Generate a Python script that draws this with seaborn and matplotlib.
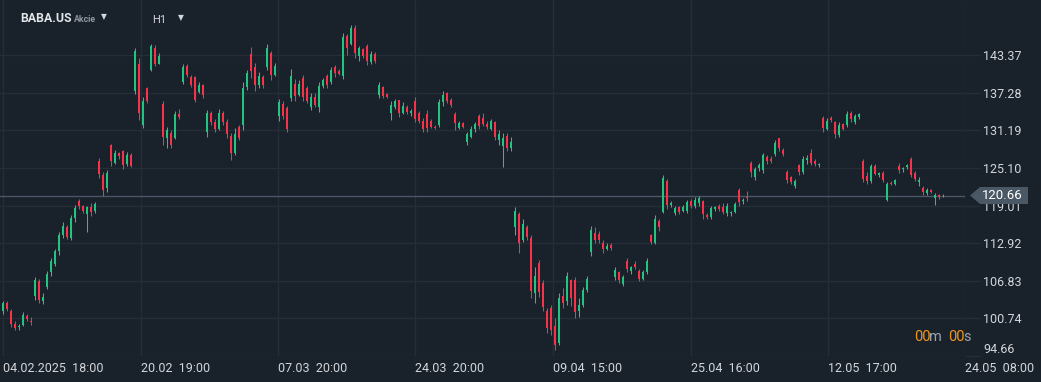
import numpy as np
import matplotlib
matplotlib.use('Agg')
import matplotlib.pyplot as plt
from matplotlib.patches import Polygon
from matplotlib.transforms import IdentityTransform
import seaborn as sns

# hourly candles (~one candle per 4 px)
opens = [101.9, 103.3, 102.0, 99.9, 99.3, 99.7, 101.2, 100.4, 104.3, 106.8, 103.5, 105.9, 108.2, 109.6, 111.6, 114.3,
         115.5, 113.8, 117.0, 119.8, 118.9, 117.6, 118.8, 118.2, 126.3, 124.0, 121.8, 128.8, 126.0, 127.5, 127.8, 125.7,
         127.3, 137.6, 142.0, 132.0, 138.0, 141.0, 144.6, 142.0, 135.5, 130.0, 130.8, 130.0, 133.8, 139.0, 141.7, 139.9,
         139.8, 137.5, 138.6, 131.0, 134.0, 132.6, 131.5, 134.0, 132.6, 130.3, 127.5, 131.8, 132.0, 138.2, 143.6, 141.5,
         138.5, 139.8, 141.4, 143.8, 140.2, 133.5, 135.5, 134.8, 136.5, 138.8, 137.0, 139.7, 138.0, 135.0, 136.6, 135.0,
         138.4, 140.0, 139.0, 141.5, 140.8, 140.0, 146.5, 145.2, 147.8, 143.2, 144.4, 144.9, 142.3, 143.6, 137.0, 138.2,
         137.1, 134.0, 135.0, 136.1, 134.0, 135.0, 134.0, 136.0, 134.0, 132.8, 133.8, 132.8, 131.8, 132.0, 135.8, 137.2,
         136.2, 133.9, 131.6, 132.4, 129.3, 130.2, 131.4, 133.5, 133.2, 132.3, 131.5, 132.5, 129.6, 128.6, 130.3, 128.4,
         115.5, 117.6, 113.5, 115.6, 113.8, 104.8, 109.8, 106.5, 102.0, 102.5, 99.5, 96.8, 104.4, 103.5, 107.0, 107.0,
         102.0, 103.0, 105.3, 111.5, 114.6, 114.4, 113.0, 112.0, 112.6, 107.4, 108.2, 106.4, 110.0, 108.4, 109.6, 108.5,
         107.2, 108.2, 114.3, 113.0, 116.5, 118.0, 123.0, 119.2, 117.9, 118.8, 118.2, 118.2, 119.8, 118.9, 119.5, 119.8,
         117.5, 117.2, 118.5, 118.9, 118.8, 117.8, 117.8, 118.0, 121.5, 119.7, 120.4, 126.0, 123.6, 125.1, 124.8, 126.9,
         126.6, 127.4, 129.9, 128.0, 124.4, 123.6, 122.2, 125.6, 124.5, 126.4, 127.6, 126.3, 125.6, 133.2, 131.5, 133.2,
         132.6, 130.4, 132.2, 132.0, 134.0, 132.6, 133.4, 126.2, 123.8, 123.0, 125.5, 124.0, 124.3, 120.0, 122.7, 122.5,
         125.4, 124.9, 125.2, 126.6, 124.3, 122.8, 121.8, 121.0, 121.5, 120.3, 120.7, 120.5]
highs = [103.5, 103.5, 102.2, 100.3, 99.9, 101.8, 101.4, 101.0, 107.4, 107.2, 104.8, 108.4, 110.5, 112.0, 114.8, 116.3,
         115.9, 117.5, 119.2, 120.1, 119.2, 119.0, 119.4, 119.6, 126.8, 124.5, 124.8, 129.0, 128.0, 127.7, 128.1, 127.7,
         127.6, 144.5, 143.0, 136.6, 138.2, 145.2, 145.0, 143.7, 135.9, 131.8, 131.3, 134.4, 134.6, 141.9, 141.9, 140.2,
         140.0, 139.0, 138.8, 134.5, 134.3, 133.0, 134.6, 134.4, 133.0, 130.8, 131.6, 132.1, 139.0, 141.0, 144.7, 142.2,
         140.6, 140.2, 145.2, 144.0, 142.2, 136.3, 136.0, 135.2, 141.2, 139.6, 139.3, 140.1, 138.4, 137.3, 137.2, 139.0,
         139.7, 140.3, 141.5, 141.8, 141.2, 147.0, 146.8, 148.3, 148.2, 144.8, 144.6, 145.2, 144.1, 143.9, 139.0, 138.4,
         137.3, 136.0, 136.3, 136.2, 135.8, 135.3, 134.6, 136.6, 134.4, 133.2, 134.5, 133.0, 132.1, 136.3, 137.6, 137.5,
         136.5, 134.2, 132.8, 132.5, 130.9, 131.9, 132.5, 133.8, 134.1, 132.7, 133.1, 132.7, 131.3, 130.8, 130.8, 130.2,
         118.8, 118.0, 116.8, 115.9, 114.2, 109.0, 110.2, 107.0, 102.4, 103.0, 100.8, 104.8, 105.6, 108.3, 107.2, 107.5,
         104.0, 105.8, 107.6, 115.8, 115.6, 114.9, 113.4, 112.9, 113.0, 109.0, 108.4, 107.8, 110.6, 109.3, 110.0, 108.8,
         108.6, 110.5, 114.5, 117.5, 116.9, 124.0, 123.3, 119.8, 119.0, 119.0, 119.1, 120.0, 120.1, 120.4, 120.6, 120.0,
         117.8, 118.9, 119.0, 119.3, 119.4, 119.4, 118.2, 119.6, 121.8, 120.2, 121.4, 126.2, 125.3, 125.9, 127.6, 127.2,
         127.0, 129.6, 130.0, 128.4, 124.8, 123.8, 123.3, 125.8, 127.0, 127.2, 128.2, 126.6, 126.0, 133.6, 133.2, 133.6,
         132.8, 132.6, 132.4, 134.4, 134.4, 133.8, 134.0, 126.6, 124.5, 125.8, 125.7, 124.5, 124.6, 122.9, 123.0, 123.4,
         126.0, 125.3, 125.8, 126.9, 124.6, 123.6, 122.2, 121.8, 121.7, 121.0, 120.9, 120.9]
lows = [101.5, 102.0, 99.4, 98.8, 98.8, 99.5, 100.3, 99.7, 103.8, 103.2, 103.1, 105.5, 107.6, 109.2, 111.0, 113.8,
        113.6, 113.4, 116.3, 118.4, 117.9, 114.7, 117.4, 117.9, 123.5, 120.6, 121.3, 125.4, 125.8, 126.6, 125.0, 125.5,
        125.2, 137.1, 132.9, 131.6, 135.7, 140.8, 141.6, 141.9, 128.9, 128.4, 128.4, 129.8, 133.0, 138.8, 139.9, 138.2,
        135.8, 137.3, 136.5, 130.1, 132.0, 130.9, 131.3, 132.1, 130.0, 126.4, 127.2, 129.6, 131.2, 137.8, 139.7, 137.6,
        138.1, 138.0, 141.0, 139.4, 140.0, 132.8, 133.0, 131.0, 136.0, 136.0, 136.8, 136.0, 135.6, 134.5, 135.0, 134.2,
        138.0, 138.0, 138.8, 139.8, 140.1, 139.6, 143.4, 145.0, 143.0, 142.5, 142.9, 141.8, 142.0, 142.2, 136.4, 136.4,
        136.4, 132.9, 134.6, 133.4, 133.8, 133.9, 133.5, 132.5, 132.4, 130.9, 130.9, 131.6, 131.5, 131.8, 135.1, 135.6,
        135.0, 131.2, 131.4, 131.6, 128.9, 129.9, 131.0, 131.4, 131.9, 131.5, 131.3, 129.6, 128.9, 125.3, 127.8, 127.9,
        114.2, 111.4, 113.2, 113.5, 104.0, 103.2, 104.2, 102.0, 98.4, 98.0, 95.6, 96.5, 102.4, 103.0, 102.8, 100.8,
        101.0, 102.6, 105.0, 110.8, 112.9, 112.9, 111.3, 111.8, 111.8, 107.0, 106.5, 106.0, 108.2, 108.0, 108.8, 106.8,
        107.0, 107.9, 112.8, 112.8, 114.9, 117.8, 118.5, 118.8, 117.5, 117.7, 118.0, 117.9, 118.6, 118.6, 119.0, 116.9,
        116.9, 116.8, 118.1, 118.2, 117.6, 117.4, 117.4, 117.8, 119.0, 119.3, 119.8, 123.7, 123.2, 124.7, 124.3, 125.8,
        125.9, 127.1, 127.8, 127.1, 122.7, 122.6, 121.8, 124.0, 124.2, 125.8, 125.6, 125.5, 125.3, 131.0, 131.2, 132.6,
        129.9, 130.2, 131.2, 131.8, 132.6, 132.3, 133.1, 122.8, 122.6, 122.7, 123.9, 123.7, 122.9, 119.7, 122.3, 122.3,
        124.3, 124.5, 124.9, 123.6, 123.0, 122.2, 120.8, 120.8, 121.0, 119.2, 120.1, 120.4]
closes = [103.3, 102.3, 99.9, 99.2, 99.6, 101.3, 100.6, 100.1, 106.9, 103.8, 104.2, 108.0, 110.0, 111.6, 114.3, 115.8,
          114.0, 117.0, 118.7, 118.9, 118.1, 118.8, 118.0, 119.3, 124.2, 121.5, 124.3, 126.3, 127.6, 127.0, 125.6, 127.3,
          125.5, 144.0, 134.0, 136.0, 136.0, 144.8, 142.0, 143.3, 130.2, 131.2, 128.8, 133.8, 133.4, 141.5, 140.2, 138.6,
          136.2, 138.6, 136.9, 134.0, 132.5, 131.5, 134.0, 132.5, 130.6, 127.6, 130.6, 130.0, 138.0, 140.5, 140.8, 138.5,
          140.0, 138.6, 144.6, 140.2, 141.7, 135.8, 133.5, 131.4, 140.0, 136.8, 138.8, 136.6, 136.0, 136.6, 135.4, 138.4,
          139.3, 138.5, 141.0, 140.5, 140.4, 146.3, 144.6, 147.8, 143.8, 144.6, 143.2, 142.4, 143.6, 142.5, 138.6, 136.8,
          136.6, 135.3, 136.0, 134.0, 135.2, 134.2, 134.3, 133.0, 132.8, 131.5, 131.6, 131.8, 131.6, 135.8, 137.0, 136.0,
          135.3, 132.4, 132.4, 131.8, 130.6, 131.5, 132.2, 131.9, 132.3, 131.8, 132.8, 130.2, 130.6, 130.0, 128.4, 129.4,
          118.2, 113.0, 116.0, 114.0, 105.2, 107.6, 105.0, 102.6, 99.2, 98.8, 96.4, 104.0, 103.2, 107.6, 104.0, 101.8,
          103.0, 105.3, 107.1, 115.0, 113.5, 113.4, 112.0, 112.5, 112.1, 108.6, 107.0, 107.4, 108.7, 109.0, 109.0, 107.2,
          108.2, 110.0, 113.1, 116.8, 115.5, 123.5, 119.2, 119.4, 118.6, 118.0, 118.8, 119.6, 118.9, 120.0, 120.3, 117.6,
          117.2, 118.6, 118.8, 118.4, 118.0, 118.9, 118.0, 119.3, 119.6, 120.0, 120.2, 124.4, 125.0, 125.6, 127.2, 126.3,
          126.2, 129.2, 128.3, 127.4, 123.2, 122.9, 123.0, 124.4, 126.6, 126.8, 125.9, 125.7, 125.8, 131.6, 132.8, 132.9,
          130.6, 132.1, 131.5, 133.9, 133.0, 133.5, 133.8, 123.4, 123.0, 125.4, 124.2, 124.3, 123.2, 122.5, 122.5, 123.1,
          124.8, 125.1, 125.6, 124.0, 123.4, 123.2, 121.2, 121.5, 121.2, 120.8, 120.4, 120.66]

price_ticks = [94.66, 100.74, 106.83, 112.92, 119.01, 125.10, 131.19, 137.28, 143.37]
date_labels = ['04.02.2025  18:00', '20.02  19:00', '07.03  20:00', '24.03  20:00',
               '09.04  15:00', '25.04  16:00', '12.05  17:00', '24.05  08:00']
date_idx = [0, 34.4, 68.75, 103.1, 137.5, 171.9, 206.25, 240.5]

BG = '#19212a'
GRID = '#252e37'
GREEN = '#26c281'
RED = '#f5334b'
TXT = '#d3d6da'
TAG = '#4a5764'

sns.set_theme(style='dark', rc={'axes.facecolor': BG, 'figure.facecolor': BG,
                                'grid.color': GRID, 'axes.edgecolor': BG})
plt.rcParams['font.family'] = ['Roboto', 'DejaVu Sans']

fig = plt.figure(figsize=(10.41, 3.82), dpi=100)
ax = fig.add_axes([0, 26 / 382, 965 / 1041, 356 / 382])

o = np.array(opens)
h = np.array(highs)
l = np.array(lows)
c = np.array(closes)
x = np.arange(len(c))
colors = np.where(c >= o, GREEN, RED)

ax.axhline(c[-1], color=TAG, lw=1.0, zorder=1.5)
ax.vlines(x, l, h, colors=colors, linewidth=0.75, zorder=2)
ax.bar(x, np.maximum(np.abs(c - o), 0.15), bottom=np.minimum(o, c), width=0.5,
       color=colors, linewidth=0, zorder=3)

ax.set_xlim(-0.75, 240.5)
ax.set_ylim(94.66, 152.33)
ax.set_xticks(date_idx, date_labels)
ax.set_yticks(price_ticks, [f'{t:.2f}' for t in price_ticks])
ax.yaxis.tick_right()
ax.grid(True, color=GRID, lw=1)
ax.set_axisbelow(True)
for s in ax.spines.values():
    s.set_visible(False)
ax.tick_params(axis='x', length=0, pad=4, labelsize=9, labelcolor=TXT)
ax.tick_params(axis='y', length=11, width=1, color=GRID, pad=2, labelsize=9, labelcolor=TXT)
for lbl in ax.get_xticklabels():
    lbl.set_ha('left')
ax.yaxis.get_major_ticks()[0].label2.set_va('bottom')

# last price tag
fig.canvas.draw()
ty = ax.transData.transform((0, c[-1]))[1]
fig.add_artist(Polygon([(970, ty), (980, ty + 8.5), (1028, ty + 8.5), (1028, ty - 8.5), (980, ty - 8.5)],
                       closed=True, facecolor=TAG, edgecolor='none', transform=IdentityTransform(), zorder=5))
fig.text(982 / 1041, ty / 382, f'{c[-1]:.2f}', color='white', fontsize=9.5, va='center', ha='left', zorder=6)

# header
fig.text(20 / 1041, 1 - 19 / 382, 'BABA.US', color='#e3e6e9', fontsize=8.8, weight='bold', va='center')
fig.text(74 / 1041, 1 - 19 / 382, 'Akcie', color='#8e979f', fontsize=6.3, weight='bold', va='center')
fig.text(101 / 1041, 1 - 17 / 382, '▼', color='#d3d6da', fontsize=5.5, va='center')
fig.text(152 / 1041, 1 - 20 / 382, 'H1', color='#d3d6da', fontsize=8, va='center')
fig.text(178 / 1041, 1 - 18 / 382, '▼', color='#d3d6da', fontsize=5.5, va='center')

# countdown
ORANGE = '#f0961e'
fig.text(914 / 1041, 1 - 337 / 382, '00', color=ORANGE, fontsize=10.5, va='center')
fig.text(929 / 1041, 1 - 337 / 382, 'm', color='#9aa3ab', fontsize=10.5, va='center')
fig.text(948 / 1041, 1 - 337 / 382, '00', color=ORANGE, fontsize=10.5, va='center')
fig.text(963 / 1041, 1 - 337 / 382, 's', color='#9aa3ab', fontsize=10.5, va='center')

plt.savefig('out.png', dpi=100, facecolor=BG)
